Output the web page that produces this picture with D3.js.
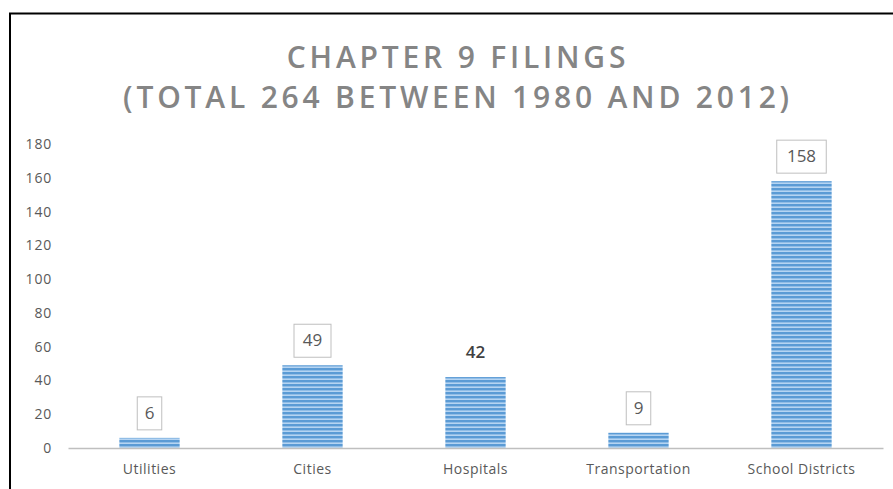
<!DOCTYPE html>
<meta charset="utf-8">
<head>
	<style>
		body {
			margin: 0;
			background: white;
			font-family: "Open Sans", "DejaVu Sans", sans-serif;
		}
	</style>
	<script src="https://cdn.jsdelivr.net/npm/d3@7"></script>
</head>
<body>
	<svg id="chart"></svg>
</body>
<script>

let categories = ["Utilities", "Cities", "Hospitals", "Transportation", "School Districts"]
let filings = [6, 49, 42, 9, 158]
let boxedLabel = [true, true, false, true, true]
let yTicks = [0, 20, 40, 60, 80, 100, 120, 140, 160, 180]
let titleLines = ["CHAPTER 9 FILINGS", "(TOTAL 264 BETWEEN 1980 AND 2012)"]

function getConfig() {
	let width = 893
	let height = 489
	let margin = { top: 144, bottom: 41, left: 68, right: 10 }
	let bodyHeight = height - margin.top - margin.bottom
	let bodyWidth = 815
	let container = d3.select("#chart")
		.attr("width", width)
		.attr("height", height)
	return { width, height, margin, bodyHeight, bodyWidth, container }
}

function getScales(config) {
	let { bodyWidth, bodyHeight } = config
	let xScale = d3.scaleBand()
		.domain(categories)
		.range([0, bodyWidth])
		.paddingInner(0.63)
		.paddingOuter(0.315)
	let yScale = d3.scaleLinear()
		.domain([0, 180])
		.range([bodyHeight, 0])
	return { xScale, yScale }
}

function drawFrame(config) {
	let { container, width, height } = config
	container.append("path")
		.attr("d", `M10,${height + 5} L10,13.5 L${width + 5},13.5`)
		.attr("fill", "none")
		.attr("stroke", "black")
		.attr("stroke-width", 2)
}

function drawTitle(config) {
	let { container } = config
	container.selectAll(".title")
		.data(titleLines)
		.enter()
		.append("text")
		.attr("x", 458)
		.attr("y", (d, i) => 68 + i * 40)
		.attr("text-anchor", "middle")
		.attr("font-size", "30px")
		.attr("font-weight", 600)
		.attr("letter-spacing", "3.8px")
		.attr("fill", "#858585")
		.text(d => d)
}

function makePattern(config) {
	let defs = config.container.append("defs")
	let pat = defs.append("pattern")
		.attr("id", "stripes")
		.attr("patternUnits", "userSpaceOnUse")
		.attr("width", 10)
		.attr("height", 4)
	pat.append("rect").attr("width", 10).attr("height", 4).attr("fill", "#b5d4f2")
	pat.append("rect").attr("width", 10).attr("height", 2.4).attr("fill", "#5b9bd5")
}

function drawAxes(config, scales) {
	let { container, margin, bodyHeight, bodyWidth } = config
	let { xScale, yScale } = scales

	let axisY = d3.axisLeft(yScale).tickValues(yTicks).tickSize(0).tickPadding(16)
	let gy = container.append("g")
		.attr("transform", `translate(${margin.left},${margin.top})`)
		.call(axisY)
	gy.select(".domain").remove()
	gy.selectAll("text")
		.attr("font-family", "'Open Sans', sans-serif")
		.attr("font-size", "14px")
		.attr("letter-spacing", "0.8px")
		.attr("fill", "#595959")

	let axisX = d3.axisBottom(xScale).tickSize(0).tickPadding(16)
	let gx = container.append("g")
		.attr("transform", `translate(${margin.left},${margin.top + bodyHeight})`)
		.call(axisX)
	gx.select(".domain")
		.attr("stroke", "#bfbfbf")
		.attr("stroke-width", 1.5)
	gx.selectAll("text")
		.attr("font-family", "'Open Sans', sans-serif")
		.attr("font-size", "14px")
		.attr("letter-spacing", "0.5px")
		.attr("fill", "#595959")
}

function drawBars(config, scales) {
	let { container, margin, bodyHeight } = config
	let { xScale, yScale } = scales
	let body = container.append("g")
		.attr("transform", `translate(${margin.left},${margin.top})`)

	let data = categories.map((c, i) => ({ cat: c, value: filings[i], boxed: boxedLabel[i] }))

	body.selectAll(".bar")
		.data(data)
		.enter()
		.append("rect")
		.attr("class", "bar")
		.attr("x", d => xScale(d.cat))
		.attr("y", d => yScale(d.value))
		.attr("width", xScale.bandwidth())
		.attr("height", d => bodyHeight - yScale(d.value))
		.attr("fill", "url(#stripes)")

	let labels = body.selectAll(".lbl")
		.data(data)
		.enter()
		.append("g")
		.attr("class", "lbl")
		.attr("transform", d => `translate(${xScale(d.cat) + xScale.bandwidth() / 2},${yScale(d.value) - 25})`)

	// box width grows with the number of digits
	let boxW = d => String(d.value).length * 12.5 + 12

	labels.filter(d => d.boxed)
		.append("rect")
		.attr("x", d => -boxW(d) / 2)
		.attr("y", -16)
		.attr("width", boxW)
		.attr("height", 33)
		.attr("fill", "white")
		.attr("stroke", "#bfbfbf")

	labels.append("text")
		.attr("text-anchor", "middle")
		.attr("dy", "0.35em")
		.attr("font-size", "17px")
		.attr("font-weight", d => d.boxed ? "normal" : 600)
		.attr("fill", d => d.boxed ? "#595959" : "#404040")
		.text(d => d.value)
}

let config = getConfig()
let scales = getScales(config)
makePattern(config)
drawFrame(config)
drawTitle(config)
drawBars(config, scales)
drawAxes(config, scales)

</script>
